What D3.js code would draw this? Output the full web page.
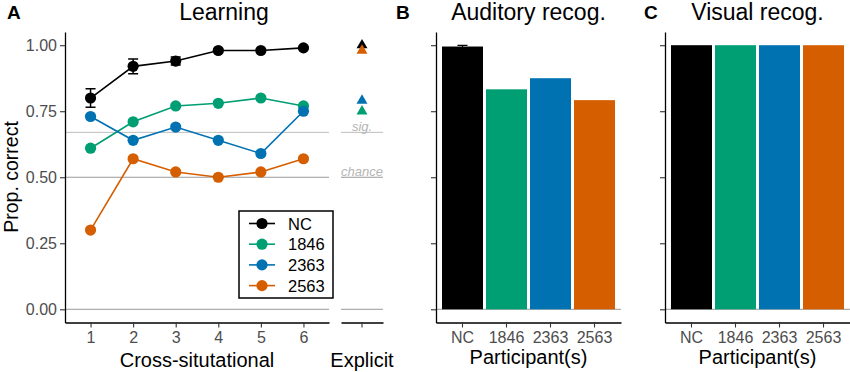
<!DOCTYPE html>
<html>
<head>
<meta charset="utf-8">
<script src="https://cdn.jsdelivr.net/npm/d3@7"></script>
<style>
  body { margin: 0; background: #fff; }
  text { font-family: "Liberation Sans", Arial, sans-serif; }
</style>
</head>
<body>
<svg id="chart" width="850" height="372"></svg>
<script>
// data
var sessions = [1, 2, 3, 4, 5, 6];
var participants = ["NC", "1846", "2363", "2563"];
var colors = ["#000000", "#009E73", "#0072B2", "#D55E00"];

var learnNC   = [0.80, 0.92, 0.94, 0.98, 0.98, 0.99];
var learnNCse = [0.035, 0.028, 0.015, 0.005, 0.005, 0.004];
var learn1846 = [0.61, 0.71, 0.77, 0.78, 0.80, 0.77];
var learn2363 = [0.73, 0.64, 0.69, 0.64, 0.59, 0.75];
var learn2563 = [0.30, 0.57, 0.52, 0.50, 0.52, 0.57];

var explicit   = [1.00, 0.75, 0.79, 0.98];   // NC, 1846, 2363, 2563
var auditory   = [0.995, 0.833, 0.875, 0.792];
var auditorySe = [0.004, 0, 0, 0];
var visual     = [1.00, 1.00, 1.00, 1.00];

var yTicks = [0, 0.25, 0.5, 0.75, 1];
var chance = 0.5, sig = 0.67;

var svg = d3.select("#chart");
svg.append("rect").attr("width", 850).attr("height", 372).attr("fill", "#fff");

var y = d3.scaleLinear().domain([-0.05, 1.05]).range([322.5, 32]);
var axisY = 322.5;

function styleAxis(g) {
    g.selectAll(".domain").attr("stroke", "#000").attr("stroke-width", 1.3);
    g.selectAll(".tick line").attr("stroke", "#333").attr("stroke-width", 1.1);
    g.selectAll(".tick text").attr("fill", "#4d4d4d").style("font-size", "16px")
        .style("font-family", "Liberation Sans, Arial, sans-serif");
}

function hline(x0, x1, v, col) {
    svg.append("line").attr("x1", x0).attr("x2", x1)
        .attr("y1", y(v)).attr("y2", y(v))
        .attr("stroke", col).attr("stroke-width", 1);
}

// ---------- panel A: learning ----------
var xA = d3.scaleLinear().domain([0.4, 6.6]).range([65, 329]);
var xE = d3.scaleBand().domain(["Explicit"]).range([341, 383]);

hline(65, 329, 0, "#9a9a9a");
hline(65, 329, chance, "#9a9a9a");
hline(65, 329, sig, "#bdbdbd");
hline(341, 383, 0, "#9a9a9a");
hline(341, 383, chance, "#9a9a9a");
hline(341, 383, sig, "#bdbdbd");

svg.append("text").attr("x", xE("Explicit") + xE.bandwidth() / 2).attr("y", y(sig) - 1)
    .attr("text-anchor", "middle").attr("fill", "#b5b5b5")
    .style("font-size", "13px").style("font-style", "italic").text("sig.");
svg.append("text").attr("x", xE("Explicit") + xE.bandwidth() / 2).attr("y", y(chance) - 1)
    .attr("text-anchor", "middle").attr("fill", "#b5b5b5")
    .style("font-size", "13px").style("font-style", "italic").text("chance");

svg.append("g").attr("transform", "translate(65,0)")
    .call(d3.axisLeft(y).tickValues(yTicks).tickFormat(d3.format(".2f")).tickSize(5).tickSizeOuter(0).tickPadding(3))
    .call(styleAxis);
svg.append("g").attr("transform", "translate(0," + axisY + ")")
    .call(d3.axisBottom(xA).tickValues(sessions).tickFormat(d3.format("d")).tickSize(5).tickSizeOuter(0).tickPadding(4))
    .call(styleAxis);
svg.append("g").attr("transform", "translate(0," + axisY + ")")
    .call(d3.axisBottom(xE).tickFormat("").tickSize(5).tickSizeOuter(0))
    .call(styleAxis);

var learnSeries = [learnNC, learn1846, learn2363, learn2563];
var line = d3.line().x(function(d, i) { return xA(sessions[i]); }).y(function(d) { return y(d); });

// error bars for NC
svg.append("g").selectAll("g").data(learnNC).enter().append("path")
    .attr("d", function(d, i) {
        var x = xA(sessions[i]), lo = y(d - learnNCse[i]), hi = y(d + learnNCse[i]);
        return "M" + (x - 5) + "," + hi + "H" + (x + 5) + "M" + x + "," + hi + "V" + lo + "M" + (x - 5) + "," + lo + "H" + (x + 5);
    })
    .attr("stroke", "#000").attr("stroke-width", 1.5).attr("fill", "none");

learnSeries.forEach(function(s, k) {
    svg.append("path").datum(s).attr("d", line)
        .attr("fill", "none").attr("stroke", colors[k]).attr("stroke-width", 1.6);
    svg.append("g").selectAll("circle").data(s).enter().append("circle")
        .attr("cx", function(d, i) { return xA(sessions[i]); })
        .attr("cy", function(d) { return y(d); })
        .attr("r", 5.6).attr("fill", colors[k]);
});

// explicit triangles
var tri = d3.symbol().type(d3.symbolTriangle).size(52);
svg.append("g").selectAll("path").data(explicit).enter().append("path")
    .attr("d", tri)
    .attr("transform", function(d) { return "translate(" + (xE("Explicit") + xE.bandwidth() / 2) + "," + y(d) + ")"; })
    .attr("fill", function(d, i) { return colors[i]; });

// legend
var lg = svg.append("g").attr("transform", "translate(239,211)");
lg.append("rect").attr("width", 94).attr("height", 87).attr("fill", "#fff")
    .attr("stroke", "#000").attr("stroke-width", 1.5);
participants.forEach(function(p, i) {
    var yy = 12.5 + i * 20.7;
    lg.append("line").attr("x1", 10).attr("x2", 36).attr("y1", yy).attr("y2", yy)
        .attr("stroke", colors[i]).attr("stroke-width", 1.6);
    lg.append("circle").attr("cx", 23).attr("cy", yy).attr("r", 5.6).attr("fill", colors[i]);
    lg.append("text").attr("x", 49).attr("y", yy + 6).style("font-size", "16.5px")
        .attr("fill", "#000").text(p);
});

// titles and labels panel A
svg.append("text").attr("x", 224).attr("y", 20).attr("text-anchor", "middle")
    .style("font-size", "23px").text("Learning");
svg.append("text").attr("x", 7).attr("y", 19).style("font-size", "19px")
    .style("font-weight", "bold").text("A");
svg.append("text").attr("transform", "translate(17.5,177) rotate(-90)").attr("text-anchor", "middle")
    .style("font-size", "19.5px").text("Prop. correct");
svg.append("text").attr("x", 197).attr("y", 367).attr("text-anchor", "middle")
    .style("font-size", "20px").text("Cross-situtational");
svg.append("text").attr("x", 362).attr("y", 367).attr("text-anchor", "middle")
    .style("font-size", "20px").text("Explicit");

// ---------- panels B and C: bar charts ----------
function barPanel(x0, values, errs, title, letter, letterX) {
    var x = d3.scaleBand().domain(participants).range([x0, x0 + 185])
        .paddingInner(0.068).paddingOuter(0.136);
    hline(x0, x0 + 185, 0, "#9a9a9a");
    svg.append("g").selectAll("rect").data(values).enter().append("rect")
        .attr("x", function(d, i) { return x(participants[i]); })
        .attr("width", x.bandwidth())
        .attr("y", function(d) { return y(d); })
        .attr("height", function(d) { return y(0) - y(d); })
        .attr("fill", function(d, i) { return colors[i]; });
    if (errs) {
        svg.append("g").selectAll("path").data(values).enter().append("path")
            .attr("d", function(d, i) {
                if (!errs[i]) return null;
                var c = x(participants[i]) + x.bandwidth() / 2, lo = y(d - errs[i]), hi = y(d + errs[i]);
                return "M" + (c - 5) + "," + hi + "H" + (c + 5) + "M" + c + "," + hi + "V" + lo + "M" + (c - 5) + "," + lo + "H" + (c + 5);
            })
            .attr("stroke", "#000").attr("stroke-width", 1.2).attr("fill", "none");
    }
    svg.append("g").attr("transform", "translate(" + x0 + ",0)")
        .call(d3.axisLeft(y).tickValues(yTicks).tickFormat("").tickSize(5).tickSizeOuter(0))
        .call(styleAxis);
    svg.append("g").attr("transform", "translate(0," + axisY + ")")
        .call(d3.axisBottom(x).tickSize(5).tickSizeOuter(0).tickPadding(4))
        .call(styleAxis);
    svg.append("text").attr("x", x0 + 92.5).attr("y", 20).attr("text-anchor", "middle")
        .style("font-size", "23px").text(title);
    svg.append("text").attr("x", letterX).attr("y", 19).style("font-size", "19px")
        .style("font-weight", "bold").text(letter);
    svg.append("text").attr("x", x0 + 92.5).attr("y", 364).attr("text-anchor", "middle")
        .style("font-size", "20px").text("Participant(s)");
}

barPanel(436, auditory, auditorySe, "Auditory recog.", "B", 396);
barPanel(665, visual, null, "Visual recog.", "C", 644);
</script>
</body>
</html>
